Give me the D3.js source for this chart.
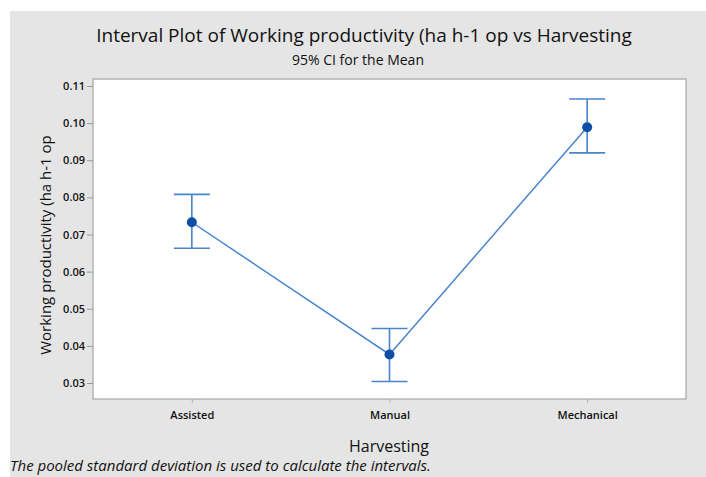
<!DOCTYPE html>
<html>
<head>
<meta charset="utf-8">
<script src="https://cdn.jsdelivr.net/npm/d3@7"></script>
<style>
  body { margin: 0; background: #fff; }
  text { font-family: "Open Sans", "Noto Sans", sans-serif; fill: #111; }
</style>
</head>
<body>
<div id="chart"></div>
<script>
// data
var categories = ["Assisted", "Manual", "Mechanical"];
var means = [0.0733, 0.0377, 0.0989];
var lowerCI = [0.0663, 0.0304, 0.0920];
var upperCI = [0.0808, 0.0447, 0.1065];
var yTicks = [0.03, 0.04, 0.05, 0.06, 0.07, 0.08, 0.09, 0.10, 0.11];

var width = 706, height = 477;
var plot = { left: 93, top: 79, right: 686, bottom: 399 };

var lineColor = "#4a84cc";
var dotColor = "#0d4ea6";

var svg = d3.select("#chart").append("svg")
    .attr("width", width)
    .attr("height", height);

svg.append("rect")
    .attr("x", 10).attr("y", 11)
    .attr("width", width - 10).attr("height", height - 11)
    .attr("fill", "#e5e5e5");

var x = d3.scalePoint()
    .domain(categories)
    .range([plot.left, plot.right])
    .padding(0.5);

var y = d3.scaleLinear()
    .domain([0.03, 0.11])
    .range([383, 86]);

// plot frame
svg.append("rect")
    .attr("x", plot.left).attr("y", plot.top)
    .attr("width", plot.right - plot.left)
    .attr("height", plot.bottom - plot.top)
    .attr("fill", "#fff")
    .attr("stroke", "#b4b4b4")
    .attr("stroke-width", 1.5);

var yAxis = d3.axisLeft(y)
    .tickValues(yTicks)
    .tickFormat(d3.format(".2f"))
    .tickSize(6)
    .tickPadding(2);

var gy = svg.append("g")
    .attr("transform", "translate(" + plot.left + ",0)")
    .call(yAxis);
gy.select(".domain").remove();
gy.selectAll(".tick line").attr("stroke", "#9a9a9a");
gy.selectAll(".tick text")
    .style("font-size", "11px")
    .style("font-weight", "600")
    .attr("fill", "#222");

var xAxis = d3.axisBottom(x)
    .tickSize(4)
    .tickPadding(8);

var gx = svg.append("g")
    .attr("transform", "translate(0," + plot.bottom + ")")
    .call(xAxis);
gx.select(".domain").remove();
gx.selectAll(".tick line").attr("stroke", "#b0b0b0");
gx.selectAll(".tick text")
    .style("font-size", "11px")
    .style("font-weight", "600")
    .attr("fill", "#222");

// connect line
var line = d3.line()
    .x(function(d, i) { return x(categories[i]); })
    .y(function(d) { return y(d); });

svg.append("path")
    .datum(means)
    .attr("d", line)
    .attr("fill", "none")
    .attr("stroke", lineColor)
    .attr("stroke-width", 1.5);

// intervals
var capHalf = 18;
var bars = svg.selectAll(".ci")
    .data(categories)
    .enter().append("g")
    .attr("class", "ci")
    .attr("stroke", lineColor)
    .attr("stroke-width", 1.6);

bars.append("line")
    .attr("x1", d => x(d)).attr("x2", d => x(d))
    .attr("y1", (d, i) => y(lowerCI[i]))
    .attr("y2", (d, i) => y(upperCI[i]));
bars.append("line")
    .attr("x1", d => x(d) - capHalf).attr("x2", d => x(d) + capHalf)
    .attr("y1", (d, i) => y(upperCI[i]))
    .attr("y2", (d, i) => y(upperCI[i]));
bars.append("line")
    .attr("x1", d => x(d) - capHalf).attr("x2", d => x(d) + capHalf)
    .attr("y1", (d, i) => y(lowerCI[i]))
    .attr("y2", (d, i) => y(lowerCI[i]));

svg.selectAll(".dot")
    .data(categories)
    .enter().append("circle")
    .attr("class", "dot")
    .attr("cx", d => x(d))
    .attr("cy", (d, i) => y(means[i]))
    .attr("r", 5)
    .attr("fill", dotColor);

// titles
svg.append("text")
    .attr("x", 364).attr("y", 42)
    .attr("text-anchor", "middle")
    .style("font-size", "19px")
    .text("Interval Plot of Working productivity (ha h-1 op vs Harvesting");

svg.append("text")
    .attr("x", 358).attr("y", 65)
    .attr("text-anchor", "middle")
    .style("font-size", "14px")
    .text("95% CI for the Mean");

svg.append("text")
    .attr("x", 389).attr("y", 452)
    .attr("text-anchor", "middle")
    .style("font-size", "16px")
    .text("Harvesting");

svg.append("text")
    .attr("transform", "translate(51,245) rotate(-90)")
    .attr("text-anchor", "middle")
    .style("font-size", "15px")
    .text("Working productivity (ha h-1 op");

svg.append("text")
    .attr("x", 10).attr("y", 471)
    .style("font-size", "15px")
    .style("font-style", "italic")
    .text("The pooled standard deviation is used to calculate the intervals.");
</script>
</body>
</html>
